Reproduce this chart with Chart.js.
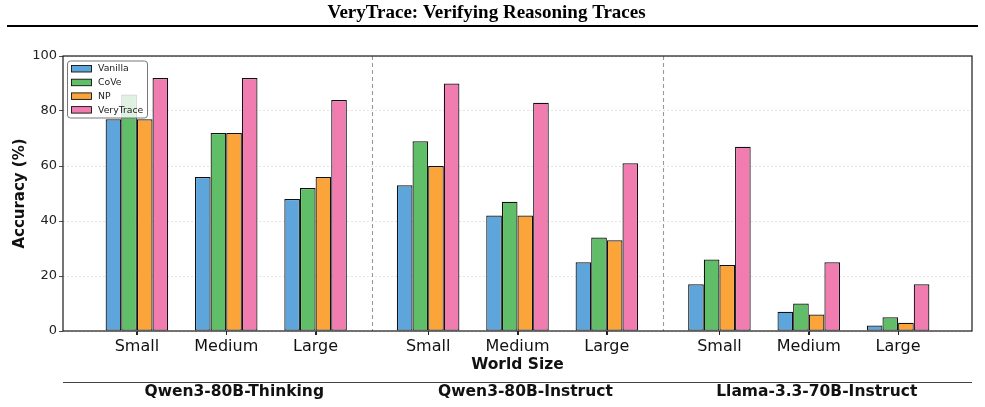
<!DOCTYPE html>
<html>
<head>
<meta charset="utf-8">
<script src="https://cdn.jsdelivr.net/npm/chart.js@4/dist/chart.umd.min.js"></script>
<style>
html,body{margin:0;padding:0;background:#fff;}
#wrap{width:985px;height:407px;position:relative;}
</style>
</head>
<body>
<div id="wrap"><canvas id="c" width="985" height="407"></canvas></div>
<script>
// ---- data ----
const chartTitle = 'VeryTrace: Verifying Reasoning Traces';
const worldSizes = ['Small', 'Medium', 'Large'];
const models = ['Qwen3-80B-Thinking', 'Qwen3-80B-Instruct', 'Llama-3.3-70B-Instruct'];
const methods = ['Vanilla', 'CoVe', 'NP', 'VeryTrace'];
// values ordered: model1 (Small, Medium, Large), model2 (...), model3 (...)
const vanilla   = [77, 56, 48, 53, 42, 25, 17, 7, 2];
const cove      = [86, 72, 52, 69, 47, 34, 26, 10, 5];
const np        = [77, 72, 56, 60, 42, 33, 24, 6, 3];
const verytrace = [92, 92, 84, 90, 83, 61, 67, 25, 17];
const yTicks = [0, 20, 40, 60, 80, 100];

// ---- layout / style ----
const colors = ['#5DA5DA', '#60BD68', '#FAA43A', '#F17CB0'];
const groupStride = 3.26; // x offset between model groups (category units)
const series = [vanilla, cove, np, verytrace];
const xPos = [];
const xLabels = [];
models.forEach((m, g) => worldSizes.forEach((w, i) => { xPos.push(g * groupStride + i); xLabels.push(w); }));
const sepPos = [1, 2].map(g => ((g - 1) * groupStride + 2 + g * groupStride) / 2);
const groupCenters = models.map((m, g) => g * groupStride + 1);
const xMin = -0.827, xMax = 2 * groupStride + 2 + 0.827;

const datasets = methods.map((name, k) => ({
  label: name,
  data: series[k].map((v, i) => ({ x: xPos[i], y: v })),
  backgroundColor: colors[k],
  borderColor: '#111',
  borderWidth: 1.2,
  borderSkipped: false,
  categoryPercentage: 0.7,
  barPercentage: 1.0,
}));

const deco = {
  id: 'deco',
  beforeDatasetsDraw(chart) {
    const ctx = chart.ctx, a = chart.chartArea, xs = chart.scales.x;
    ctx.save();
    ctx.strokeStyle = '#9a9a9a';
    ctx.lineWidth = 1.1;
    ctx.setLineDash([4, 3]);
    sepPos.forEach(p => {
      const px = Math.round(xs.getPixelForValue(p)) + 0.5;
      ctx.beginPath(); ctx.moveTo(px, a.top); ctx.lineTo(px, a.bottom); ctx.stroke();
    });
    ctx.restore();
  },
  afterDatasetsDraw(chart) {
    const ctx = chart.ctx, a = chart.chartArea, xs = chart.scales.x;
    ctx.save();
    // frame
    ctx.strokeStyle = '#1a1a1a';
    ctx.lineWidth = 1.2;
    ctx.strokeRect(a.left, a.top, a.right - a.left, a.bottom - a.top);
    // x tick marks
    ctx.strokeStyle = '#222';
    ctx.lineWidth = 1;
    xPos.forEach(p => {
      const px = Math.round(xs.getPixelForValue(p)) + 0.5;
      ctx.beginPath(); ctx.moveTo(px, a.bottom); ctx.lineTo(px, a.bottom + 4); ctx.stroke();
    });
    // legend
    const lx = a.left + 4, ly = a.top + 4.5, lw = 80, lh = 57;
    ctx.beginPath();
    if (ctx.roundRect) ctx.roundRect(lx + 0.5, ly + 0.5, lw, lh, 3); else ctx.rect(lx + 0.5, ly + 0.5, lw, lh);
    ctx.fillStyle = 'rgba(255,255,255,0.8)';
    ctx.fill();
    ctx.strokeStyle = '#777';
    ctx.lineWidth = 1;
    ctx.stroke();
    ctx.font = '9.3px "DejaVu Sans"';
    ctx.textBaseline = 'middle';
    ctx.textAlign = 'left';
    methods.forEach((m, k) => {
      const cy = ly + 8 + k * 13.7;
      ctx.fillStyle = colors[k];
      ctx.fillRect(lx + 4.5, cy - 3, 20, 6.5);
      ctx.strokeStyle = '#111';
      ctx.lineWidth = 0.9;
      ctx.strokeRect(lx + 4.5, cy - 3, 20, 6.5);
      ctx.fillStyle = '#222';
      ctx.fillText(m, lx + 31, cy + 0.5);
    });
    ctx.restore();
  },
  afterDraw(chart) {
    const ctx = chart.ctx, a = chart.chartArea, xs = chart.scales.x;
    const W = chart.width;
    ctx.save();
    // title
    ctx.fillStyle = '#000';
    ctx.font = 'bold 19px "Liberation Serif"';
    ctx.textAlign = 'center';
    ctx.textBaseline = 'middle';
    ctx.fillText(chartTitle, W / 2 - 6, 13);
    // top rule
    ctx.strokeStyle = '#000';
    ctx.lineWidth = 2;
    ctx.beginPath(); ctx.moveTo(7, 26); ctx.lineTo(978, 26); ctx.stroke();
    // bottom rule
    ctx.strokeStyle = '#444';
    ctx.lineWidth = 1;
    ctx.beginPath(); ctx.moveTo(a.left, 382.5); ctx.lineTo(a.right, 382.5); ctx.stroke();
    // model names
    ctx.fillStyle = '#111';
    ctx.font = 'bold 15.5px "DejaVu Sans"';
    models.forEach((m, g) => {
      ctx.fillText(m, xs.getPixelForValue(groupCenters[g]) + 8, 392);
    });
    ctx.restore();
  }
};

new Chart(document.getElementById('c'), {
  type: 'bar',
  data: { datasets },
  options: {
    responsive: false,
    animation: false,
    layout: { padding: { top: 56, right: 13, bottom: 32.5, left: 0 } },
    plugins: { legend: { display: false }, tooltip: { enabled: false }, title: { display: false } },
    scales: {
      x: {
        type: 'linear',
        min: xMin, max: xMax,
        offset: false,
        afterBuildTicks(scale) { scale.ticks = xPos.map(v => ({ value: v })); },
        afterFit(scale) { scale.height = 43.5; },
        ticks: {
          autoSkip: false, maxRotation: 0,
          color: '#111', padding: 2,
          font: { family: 'DejaVu Sans', size: 16 },
          callback: (v, i) => xLabels[i],
        },
        grid: { display: true, offset: false, drawOnChartArea: false, drawTicks: true, tickLength: 4, tickColor: '#222', tickWidth: 1 },
        border: { display: false },
        title: { display: true, text: 'World Size', color: '#111', font: { family: 'DejaVu Sans', size: 15.5, weight: 'bold' }, padding: { top: 0, bottom: 0 } },
      },
      y: {
        min: 0, max: 100,
        afterBuildTicks(scale) { scale.ticks = yTicks.map(v => ({ value: v })); },
        afterFit(scale) { scale.width = 63; },
        ticks: { color: '#222', padding: 2, font: { family: 'DejaVu Sans', size: 13 } },
        grid: { display: true, drawOnChartArea: true, drawTicks: true, tickLength: 4, tickColor: '#222', color: '#dedede', lineWidth: 0.8, tickBorderDash: [] },
        border: { display: false, dash: [2, 2] },
        title: { display: true, text: 'Accuracy (%)', color: '#111', font: { family: 'DejaVu Sans', size: 15, weight: 'bold' }, padding: { top: 11, bottom: 0 } },
      }
    }
  },
  plugins: [deco]
});
</script>
</body>
</html>
